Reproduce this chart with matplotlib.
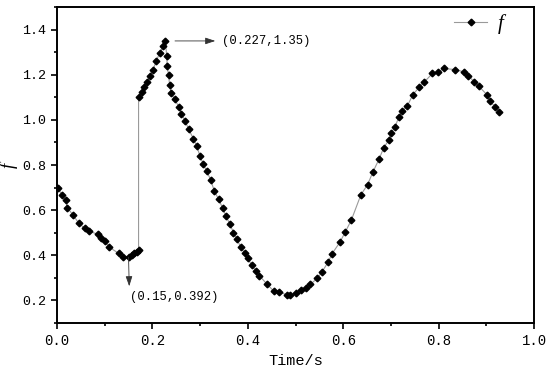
import matplotlib
matplotlib.use('Agg')
import matplotlib.pyplot as plt
from matplotlib.ticker import MultipleLocator

# time (s) and f values
time_s = [0.002, 0.011, 0.018, 0.022, 0.034, 0.046, 0.059, 0.068, 0.085, 0.092,
          0.101, 0.109, 0.129, 0.138, 0.150, 0.157, 0.162, 0.167, 0.171, 0.171,
          0.178, 0.183, 0.189, 0.194, 0.201, 0.208, 0.215, 0.223, 0.227, 0.230,
          0.231, 0.234, 0.236, 0.239, 0.247, 0.255, 0.261, 0.269, 0.276, 0.286,
          0.293, 0.300, 0.307, 0.314, 0.322, 0.330, 0.339, 0.347, 0.354, 0.362,
          0.370, 0.377, 0.385, 0.394, 0.400, 0.408, 0.417, 0.424, 0.440, 0.454,
          0.465, 0.482, 0.489, 0.500, 0.512, 0.522, 0.531, 0.546, 0.555, 0.569,
          0.576, 0.593, 0.604, 0.617, 0.637, 0.651, 0.662, 0.675, 0.685, 0.696,
          0.700, 0.709, 0.716, 0.723, 0.734, 0.746, 0.759, 0.770, 0.787, 0.799,
          0.811, 0.835, 0.853, 0.862, 0.874, 0.884, 0.901, 0.908, 0.918, 0.926]
f_vals = [0.698, 0.666, 0.644, 0.610, 0.578, 0.541, 0.519, 0.506, 0.494, 0.478,
          0.463, 0.437, 0.409, 0.391, 0.392, 0.402, 0.409, 0.416, 0.424, 1.100,
          1.122, 1.144, 1.169, 1.193, 1.221, 1.260, 1.296, 1.328, 1.350, 1.285,
          1.238, 1.197, 1.156, 1.119, 1.091, 1.059, 1.027, 0.994, 0.958, 0.917,
          0.884, 0.838, 0.803, 0.772, 0.735, 0.684, 0.648, 0.610, 0.575, 0.540,
          0.501, 0.473, 0.436, 0.409, 0.387, 0.357, 0.331, 0.310, 0.273, 0.242,
          0.238, 0.225, 0.225, 0.233, 0.246, 0.257, 0.271, 0.299, 0.325, 0.372,
          0.405, 0.458, 0.502, 0.556, 0.668, 0.713, 0.768, 0.826, 0.877, 0.912,
          0.941, 0.969, 1.012, 1.038, 1.060, 1.112, 1.144, 1.168, 1.206, 1.212,
          1.228, 1.223, 1.213, 1.196, 1.170, 1.150, 1.112, 1.082, 1.059, 1.035]

peak = (0.227, 1.35)
trough = (0.15, 0.392)

mono = 'Liberation Mono'
serif = 'Liberation Serif'

fig = plt.figure(figsize=(5.5, 3.73), dpi=100)
ax = fig.add_axes([0.1036, 0.134, 0.8674, 0.847])

ax.plot(time_s, f_vals, color='#9a9a9a', lw=0.8, marker='D', ms=3.4,
        mfc='black', mec='black', label='f')

ax.set_xlim(0, 1.0)
ax.set_ylim(0.1, 1.5)
ax.xaxis.set_major_locator(MultipleLocator(0.2))
ax.xaxis.set_minor_locator(MultipleLocator(0.1))
ax.yaxis.set_major_locator(MultipleLocator(0.2))
ax.yaxis.set_minor_locator(MultipleLocator(0.1))
ax.tick_params(which='both', direction='out', top=False, right=False, width=1.2)
ax.tick_params(which='major', length=4.5)
ax.tick_params(which='minor', length=2.5)
for s in ax.spines.values():
    s.set_linewidth(1.4)

ax.set_xticklabels([f'{v:.1f}' for v in ax.get_xticks()], family=mono, fontsize=10)
ax.set_yticklabels([f'{v:.1f}' for v in ax.get_yticks()], family=mono, fontsize=9.6)

ax.set_xlabel('Time/s', family=mono, fontsize=11, labelpad=4)
ax.set_ylabel('f', family=serif, style='italic', fontsize=13.5)
ax.yaxis.set_label_coords(-0.082, 0.5)

arrow = dict(arrowstyle='<|-,head_length=0.6,head_width=0.2', color='#333333', lw=0.6)

# arrow and label for the peak
ax.annotate('', xy=peak, xycoords='data', xytext=(36, 0), textcoords='offset points',
            arrowprops=dict(arrow, shrinkA=0, shrinkB=7))
ax.annotate(f'({peak[0]},{peak[1]})', xy=peak, xytext=(41, 0),
            textcoords='offset points', family=mono, fontsize=8.8,
            va='center', ha='left')

# arrow and label for the trough
ax.annotate('', xy=trough, xycoords='data', xytext=(0.5, -21), textcoords='offset points',
            arrowprops=dict(arrow, shrinkA=0, shrinkB=0))
ax.annotate(f'({trough[0]},{trough[1]})', xy=trough, xytext=(1, -24.5),
            textcoords='offset points', family=mono, fontsize=8.8,
            va='top', ha='left')

leg = ax.legend(loc='upper right', bbox_to_anchor=(0.945, 0.99), frameon=False,
                handlelength=1.6, borderaxespad=0, borderpad=0.2,
                prop={'family': serif, 'style': 'italic', 'size': 15},
                handletextpad=0.5)

fig.savefig('out.png', dpi=100)
